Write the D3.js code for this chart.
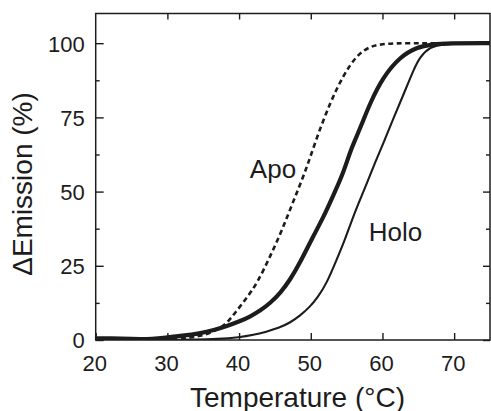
<!DOCTYPE html>
<html><head><meta charset="utf-8">
<script src="https://cdn.jsdelivr.net/npm/d3@7"></script>
<style>
html,body{margin:0;padding:0;background:#fff;}
svg{display:block;font-family:"Liberation Sans",Arial,Helvetica,sans-serif;}
</style></head>
<body><svg id="c" width="491" height="411"></svg>
<script>
// Data
const apoT = [20,25,30,33,35,37,38.3,39.4,41,42.5,44.3,46,47.6,49.3,50.8,52.7,54.5,56.4,58.3,60,62,65,70,75];
const apoV = [0.3,0.2,0.3,0.7,1.5,3.5,5.6,9,14,19,28,37,47,57,68,80,89,96,99,99.7,100,100,100,100];
const midT = [20,22,25,28,30,32,34.5,36.5,38.3,40,41.5,43,44.3,45.8,47.1,48.5,50.3,51.8,53.1,54.5,55.5,56.2,57,58.3,60.1,62.4,64.8,67,69,75];
const midV = [0.5,0.6,0.3,0.3,0.9,1.4,2.2,3.3,4.7,6.2,7.8,10,12.3,16,20.2,26,34.8,41.5,48.5,56,63.5,67.5,72,80,88.6,95.3,98.7,99.6,100,100];
const holoT = [20,25,30,34,36.9,40.1,42,43.8,45.5,47.1,48.5,49.9,51,52.2,53.6,54.8,55.9,57,57.8,59,60.3,61.5,62.9,64.3,65.2,66.6,68.5,75];
const holoV = [0,0,0,0.1,0.3,0.9,1.7,2.8,4,5.8,8.2,11.2,14.5,19,27,34,41.5,48,52.7,60,67.3,74.5,82.5,90.8,95.3,98.7,99.8,100];
const xTicks = [20,30,40,50,60,70];
const xTopTicks = [30,40,50,60,70];
const yTicks = [0,25,50,75,100];
const yMinor = [12.5,37.5,62.5,87.5];
const labels = [{text:"Apo", t:41.5, v:54.5},{text:"Holo", t:58.1, v:33.5}];

const svg = d3.select("#c");
const L=95.7, R=490, T=13.5, B=340;
const x = d3.scaleLinear().domain([20,75]).range([L,R]);
const y = d3.scaleLinear().domain([0,110]).range([B,T]);
const ink = "#1c1c1c";

svg.append("defs").append("clipPath").attr("id","clip")
  .append("rect").attr("x",L).attr("y",T).attr("width",R-L).attr("height",B-T);

function styleAxis(g){
  g.select(".domain").remove();
  g.selectAll(".tick line").attr("stroke",ink).attr("stroke-width",1.4);
  g.selectAll(".tick text").attr("fill",ink).attr("font-size",22).attr("font-family","'Liberation Sans',Arial,sans-serif");
}
// bottom
svg.append("g").attr("transform",`translate(0,${B})`)
  .call(d3.axisBottom(x).tickValues(xTicks).tickSize(-7).tickPadding(10).tickFormat(d3.format("d")))
  .call(styleAxis).call(g=>g.selectAll(".tick text").attr("dy","0.95em").attr("dx",-1.5));
// top
svg.append("g").attr("transform",`translate(0,${T})`)
  .call(d3.axisTop(x).tickValues(xTopTicks).tickSize(-6).tickFormat(""))
  .call(styleAxis);
// left
svg.append("g").attr("transform",`translate(${L},0)`)
  .call(d3.axisLeft(y).tickValues(yTicks).tickSize(-8).tickPadding(11).tickFormat(d3.format("d")))
  .call(styleAxis).call(g=>g.selectAll(".tick text").attr("dy","0.36em"));
svg.append("g").attr("transform",`translate(${L},0)`)
  .call(d3.axisLeft(y).tickValues(yMinor).tickSize(-4).tickFormat(""))
  .call(styleAxis);
// right
svg.append("g").attr("transform",`translate(${R},0)`)
  .call(d3.axisRight(y).tickValues(yTicks).tickSize(-7).tickFormat(""))
  .call(styleAxis);
svg.append("g").attr("transform",`translate(${R},0)`)
  .call(d3.axisRight(y).tickValues(yMinor).tickSize(-4).tickFormat(""))
  .call(styleAxis);

// frame
svg.append("rect").attr("x",L).attr("y",T).attr("width",R-L).attr("height",B-T)
  .attr("fill","none").attr("stroke",ink).attr("stroke-width",1.5);

const line = d3.line().x(d=>x(d[0])).y(d=>y(d[1])).curve(d3.curveBasis);
const plot = svg.append("g").attr("clip-path","url(#clip)");
plot.append("path").datum(d3.zip(holoT,holoV)).attr("d",line)
  .attr("fill","none").attr("stroke",ink).attr("stroke-width",2.1);
plot.append("path").datum(d3.zip(midT,midV)).attr("d",line)
  .attr("fill","none").attr("stroke",ink).attr("stroke-width",4.2);
plot.append("path").datum(d3.zip(apoT,apoV)).attr("d",line)
  .attr("fill","none").attr("stroke",ink).attr("stroke-width",2.6).attr("stroke-dasharray","5,3.5");

// annotations
svg.selectAll("text.lab").data(labels).enter().append("text").attr("class","lab")
  .attr("x",d=>x(d.t)).attr("y",d=>y(d.v)).attr("font-size",26).attr("fill",ink).text(d=>d.text);

// axis titles
svg.append("text").attr("x",297.5).attr("y",406.5).attr("text-anchor","middle")
  .attr("font-size",28).attr("fill",ink).text("Temperature (°C)");
svg.append("text").attr("transform","translate(32,184) rotate(-90)").attr("text-anchor","middle")
  .attr("font-size",28).attr("fill",ink).text("ΔEmission (%)");
</script></body></html>
